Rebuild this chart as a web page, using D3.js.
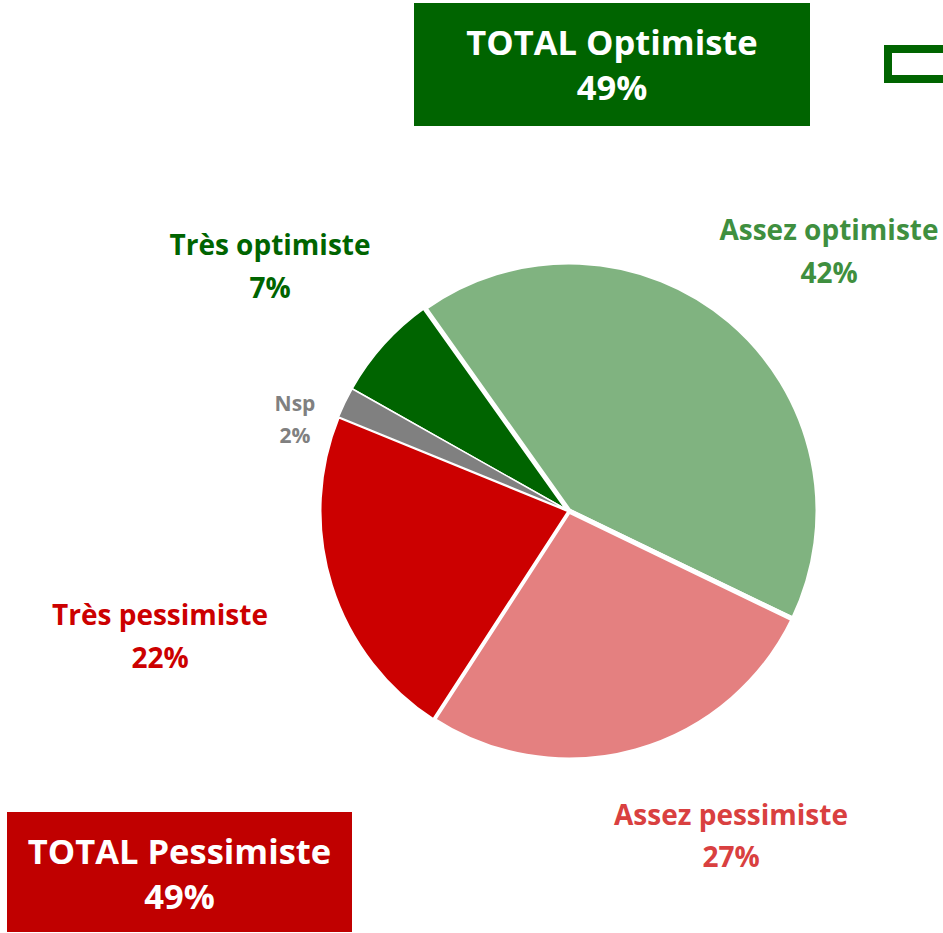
<!DOCTYPE html>
<html>
<head>
<meta charset="utf-8">
<script src="https://cdn.jsdelivr.net/npm/d3@7"></script>
<style>
  body { margin: 0; background: #fff; }
  svg { display: block; font-family: "Open Sans", Lato, sans-serif; font-weight: bold; }
</style>
</head>
<body>
<div id="chart"></div>
<script>
// Pie data, in drawing order (clockwise from the top left)
var categories = ["Très optimiste", "Assez optimiste", "Assez pessimiste", "Très pessimiste", "Nsp"];
var values = [7, 42, 27, 22, 2];
var sliceColors = ["#006400", "#80b380", "#e48080", "#cc0000", "#808080"];
var labelColors = ["#006400", "#3f8f3f", "#d94040", "#cc0000", "#808080"];

// totals boxes
var totalNames = ["TOTAL Optimiste", "TOTAL Pessimiste"];
var totalValues = [49, 49];
var totalColors = ["#006400", "#c00000"];

var W = 943, H = 933;
var cx = 569, cy = 511, R = 249;

var svg = d3.select("#chart").append("svg")
    .attr("width", W)
    .attr("height", H);

var pie = d3.pie()
    .value(function(d) { return d; })
    .sort(null)
    .startAngle(-60.6 * Math.PI / 180)
    .endAngle((360 - 60.6) * Math.PI / 180);

var arc = d3.arc().innerRadius(0).outerRadius(R);

var strokes = [1.5, 5, 5, 3, 1.5];

var g = svg.append("g").attr("transform", "translate(" + cx + "," + cy + ")");
g.selectAll("path")
    .data(pie(values))
    .enter().append("path")
    .attr("d", arc)
    .attr("fill", function(d, i) { return sliceColors[i]; })
    .attr("stroke", "#fff")
    .attr("stroke-width", function(d, i) { return strokes[i]; })
    .attr("stroke-linejoin", "round");

// label layout (placed by hand, like the original)
var labelPos = [
    {x: 270, y: 255, size: 28, gap: 43},
    {x: 829, y: 240, size: 28, gap: 43},
    {x: 731, y: 825, size: 28, gap: 42},
    {x: 160, y: 625, size: 28, gap: 43},
    {x: 295, y: 411, size: 21, gap: 32}
];

var labels = svg.selectAll(".lbl")
    .data(categories)
    .enter().append("text")
    .attr("class", "lbl")
    .attr("text-anchor", "middle")
    .attr("fill", function(d, i) { return labelColors[i]; })
    .style("font-size", function(d, i) { return labelPos[i].size + "px"; });

labels.append("tspan")
    .attr("x", function(d, i) { return labelPos[i].x; })
    .attr("y", function(d, i) { return labelPos[i].y; })
    .text(function(d) { return d; });
labels.append("tspan")
    .attr("x", function(d, i) { return labelPos[i].x; })
    .attr("y", function(d, i) { return labelPos[i].y + labelPos[i].gap; })
    .text(function(d, i) { return values[i] + "%"; });

// total boxes
var boxPos = [
    {x: 414, y: 3, w: 396, h: 123},
    {x: 7, y: 812, w: 345, h: 120}
];
var boxes = svg.selectAll(".total")
    .data(totalNames)
    .enter().append("g")
    .attr("class", "total");
boxes.append("rect")
    .attr("x", function(d, i) { return boxPos[i].x; })
    .attr("y", function(d, i) { return boxPos[i].y; })
    .attr("width", function(d, i) { return boxPos[i].w; })
    .attr("height", function(d, i) { return boxPos[i].h; })
    .attr("fill", function(d, i) { return totalColors[i]; });
var bt = boxes.append("text")
    .attr("text-anchor", "middle")
    .attr("fill", "#fff")
    .style("font-size", "34.5px");
bt.append("tspan")
    .attr("x", function(d, i) { return boxPos[i].x + boxPos[i].w / 2; })
    .attr("y", function(d, i) { return boxPos[i].y + 52; })
    .text(function(d) { return d; });
bt.append("tspan")
    .attr("x", function(d, i) { return boxPos[i].x + boxPos[i].w / 2; })
    .attr("y", function(d, i) { return boxPos[i].y + 97; })
    .text(function(d, i) { return totalValues[i] + "%"; });

// small outlined box, cut by the right edge
svg.append("rect")
    .attr("x", 888)
    .attr("y", 49)
    .attr("width", 100)
    .attr("height", 30)
    .attr("fill", "none")
    .attr("stroke", "#006400")
    .attr("stroke-width", 8);
</script>
</body>
</html>
